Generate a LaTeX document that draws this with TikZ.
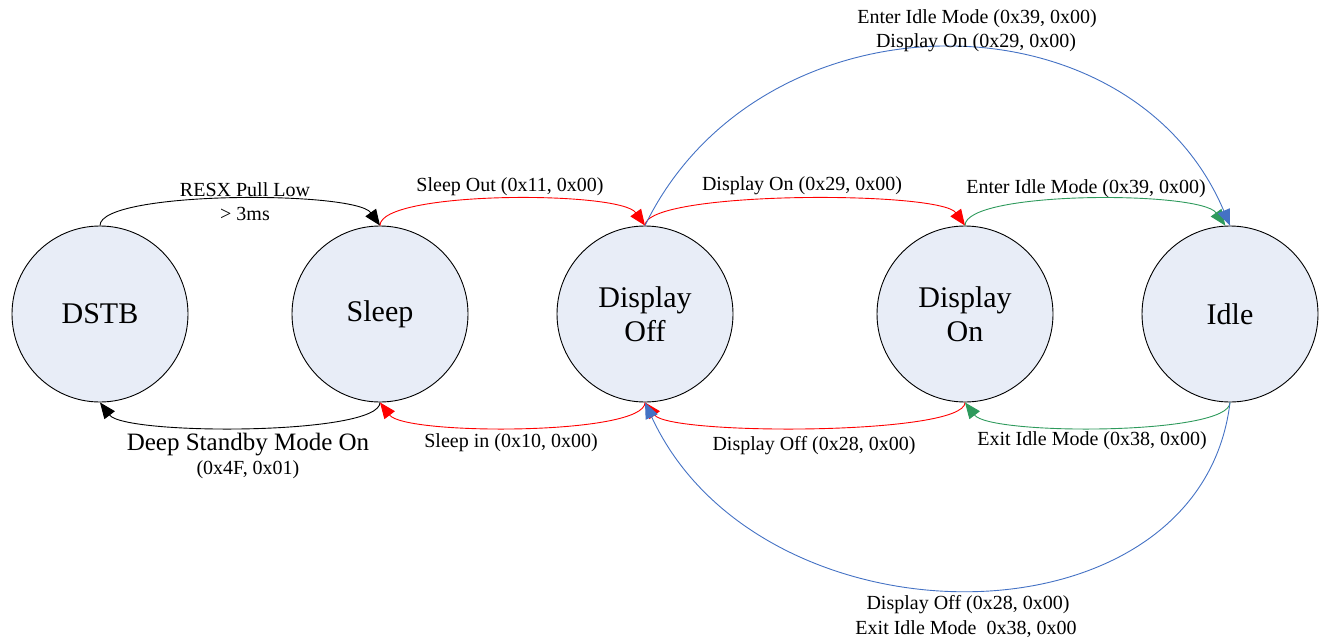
\documentclass[tikz,border=0pt]{standalone}
\usepackage{fontspec}
\setmainfont{Liberation Serif}
\usetikzlibrary{arrows.meta}
\definecolor{statefill}{RGB}{232,237,247}
\definecolor{lblue}{RGB}{68,114,196}
\definecolor{lgreen}{RGB}{46,154,92}
\begin{document}
\begin{tikzpicture}[x=1pt,y=-1pt,
  state/.style={circle,draw=black,line width=0.9pt,fill=statefill,minimum size=176pt,inner sep=0pt,
    font=\fontsize{30}{34}\selectfont,align=center},
  conn/.style={line width=0.9pt,-{Triangle[length=16pt,width=13pt]}},
  lbl/.style={font=\fontsize{20}{24}\selectfont,inner sep=0pt,align=center},
  biglbl/.style={font=\fontsize{25}{28}\selectfont,inner sep=0pt}]
\path[use as bounding box] (0,0) rectangle (1327,640);
\node[state] (dstb) at (100,314) {DSTB};
\node[state] (sleep) at (380,314) {Sleep};
\node[state] (doff) at (645,314) {Display\\Off};
\node[state] (don) at (965,314) {Display\\On};
\node[state] (idle) at (1230,314) {Idle};
% top arcs
\draw[conn,black] (dstb.north) .. controls +(0,-35) and +(-25,-35) .. (sleep.north);
\draw[conn,red] (sleep.north) .. controls +(0,-35) and +(-25,-35) .. (doff.north);
\draw[conn,red] (doff.north) .. controls +(0,-35) and +(-25,-35) .. (don.north);
\draw[conn,lgreen] (don.north) .. controls +(0,-35) and +(-25,-35) .. (idle.93);
\draw[conn,lblue] (doff.north) .. controls +(115,-237) and +(-100,-237) .. (idle.north);
% bottom arcs
\draw[conn,black] (sleep.south) .. controls +(0,33) and +(25,33) .. (dstb.south);
\draw[conn,red] (doff.south) .. controls +(0,33) and +(25,33) .. (sleep.south);
\draw[conn,red] (don.south) .. controls +(0,33) and +(25,33) .. (doff.south);
\draw[conn,lgreen] (idle.south) .. controls +(0,33) and +(25,33) .. (don.south);
\draw[conn,lblue] (idle.south) .. controls +(-30,250) and +(115,250) .. (doff.south);
% labels
\node[lbl] (l1) at (245,190) {RESX Pull Low};
\node[lbl] (l2) at (245,214) {> 3ms};
\node[lbl] (l3) at (510,187) {Sleep Out (0x11, 0x00)};
\node[lbl] (l4) at (802,186) {Display On (0x29, 0x00)};
\node[lbl] (l5) at (1086,189) {Enter Idle Mode (0x39, 0x00)};
\node[lbl] (l6) at (977,19) {Enter Idle Mode (0x39, 0x00)};
\node[lbl] (l7) at (976,43) {Display On (0x29, 0x00)};
\node[biglbl] (l8) at (248,445) {Deep Standby Mode On};
\node[lbl] (l9) at (248,470) {(0x4F, 0x01)};
\node[lbl] (l10) at (511,443) {Sleep in (0x10, 0x00)};
\node[lbl] (l11) at (814,446) {Display Off (0x28, 0x00)};
\node[lbl] (l12) at (1092,441) {Exit Idle Mode (0x38, 0x00)};
\node[lbl] (l13) at (968,605) {Display Off (0x28, 0x00)};
\node[lbl] (l14) at (966,629) {Exit Idle Mode\ \ 0x38, 0x00};
\end{tikzpicture}
\end{document}
